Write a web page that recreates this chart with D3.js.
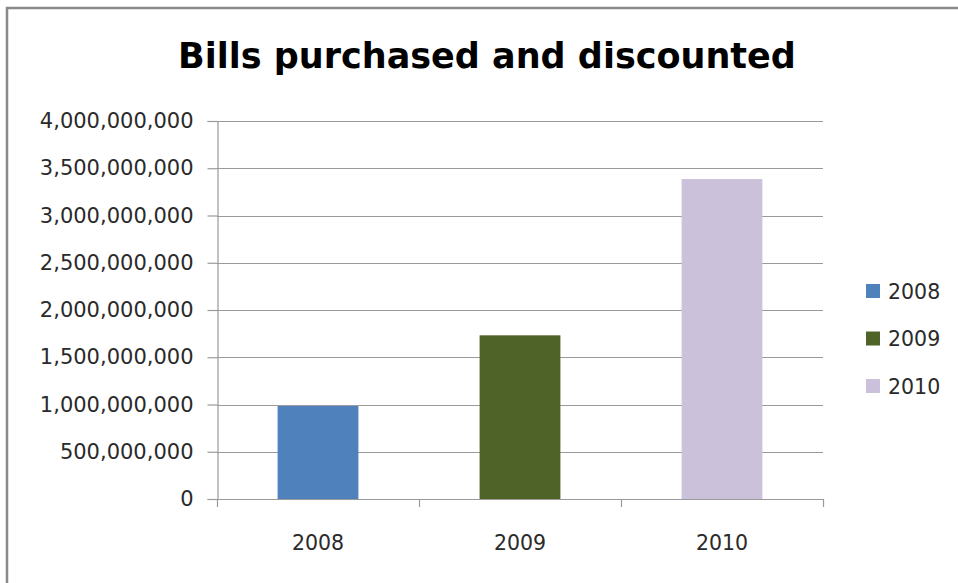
<!DOCTYPE html>
<html>
<head>
<meta charset="utf-8">
<script src="https://cdn.jsdelivr.net/npm/d3@7"></script>
<style>
  body { margin: 0; background: #fff; }
  svg { display: block; }
</style>
</head>
<body>
<svg id="chart" width="958" height="583"></svg>
<script>
// Chart data
const years = ["2008", "2009", "2010"];
const values = [984000000, 1732000000, 3386000000];
const colors = ["#4F81BD", "#4F6228", "#CCC1DA"];
const yTicks = [0, 500000000, 1000000000, 1500000000, 2000000000, 2500000000, 3000000000, 3500000000, 4000000000];

const svg = d3.select("#chart");
const font = "DejaVu Sans";

// Outer frame (runs off the right and bottom edges)
svg.append("rect")
    .attr("x", 7)
    .attr("y", 8)
    .attr("width", 1000)
    .attr("height", 1000)
    .attr("fill", "#fff")
    .attr("stroke", "#898989")
    .attr("stroke-width", 2.5);

// Title
svg.append("text")
    .attr("x", 487)
    .attr("y", 68)
    .attr("text-anchor", "middle")
    .style("font-family", font)
    .style("font-weight", "bold")
    .style("font-size", "35px")
    .attr("fill", "#000")
    .text("Bills purchased and discounted");

const plot = { left: 217, right: 823, top: 121, bottom: 499 };

const x = d3.scaleBand()
    .domain(years)
    .range([plot.left, plot.right])
    .paddingInner(0.6)
    .paddingOuter(0.3);

const xEdges = d3.scaleLinear()
    .domain([0, years.length])
    .range([plot.left, plot.right]);

const y = d3.scaleLinear()
    .domain([0, 4000000000])
    .range([plot.bottom, plot.top]);

// Horizontal grid lines
svg.append("g")
    .selectAll("line")
    .data(yTicks)
    .enter().append("line")
    .attr("x1", plot.left)
    .attr("x2", plot.right)
    .attr("y1", d => Math.round(y(d)) + 0.5)
    .attr("y2", d => Math.round(y(d)) + 0.5)
    .attr("stroke", "#9a9a9a")
    .attr("stroke-width", 1.2);

// Bars
svg.append("g")
    .selectAll("rect")
    .data(years)
    .enter().append("rect")
    .attr("x", d => x(d))
    .attr("width", x.bandwidth())
    .attr("y", (d, i) => y(values[i]))
    .attr("height", (d, i) => y(0) - y(values[i]))
    .attr("fill", (d, i) => colors[i]);

// Y axis
const yAxis = svg.append("g")
    .attr("transform", `translate(${plot.left + 0.5},0)`)
    .call(d3.axisLeft(y).tickValues(yTicks).tickSize(10).tickPadding(14).tickFormat(d3.format(",")));
yAxis.select(".domain").attr("stroke", "#9a9a9a").attr("stroke-width", 1.2);
yAxis.selectAll(".tick line").attr("stroke", "#9a9a9a").attr("stroke-width", 1.2);
yAxis.selectAll(".tick text")
    .style("font-family", font)
    .style("font-size", "21px")
    .attr("fill", "#2a2a2a");

// X axis line and category separators
svg.append("line")
    .attr("x1", plot.left)
    .attr("x2", plot.right)
    .attr("y1", plot.bottom + 0.5)
    .attr("y2", plot.bottom + 0.5)
    .attr("stroke", "#9a9a9a")
    .attr("stroke-width", 1.2);

svg.append("g")
    .selectAll("line")
    .data(d3.range(years.length + 1))
    .enter().append("line")
    .attr("x1", d => Math.round(xEdges(d)) + 0.5)
    .attr("x2", d => Math.round(xEdges(d)) + 0.5)
    .attr("y1", plot.bottom)
    .attr("y2", plot.bottom + 8)
    .attr("stroke", "#9a9a9a")
    .attr("stroke-width", 1.2);

// X labels
svg.append("g")
    .selectAll("text")
    .data(years)
    .enter().append("text")
    .attr("x", d => x(d) + x.bandwidth() / 2)
    .attr("y", 550)
    .attr("text-anchor", "middle")
    .style("font-family", font)
    .style("font-size", "20.5px")
    .attr("fill", "#2a2a2a")
    .text(d => d);

// Legend
const legend = svg.append("g")
    .selectAll("g")
    .data(years)
    .enter().append("g")
    .attr("transform", (d, i) => `translate(866, ${284 + i * 47.5})`);

legend.append("rect")
    .attr("width", 14)
    .attr("height", 14)
    .attr("fill", (d, i) => colors[i]);

legend.append("text")
    .attr("x", 22)
    .attr("y", 14.5)
    .style("font-family", font)
    .style("font-size", "20.5px")
    .attr("fill", "#2a2a2a")
    .text(d => d);
</script>
</body>
</html>
